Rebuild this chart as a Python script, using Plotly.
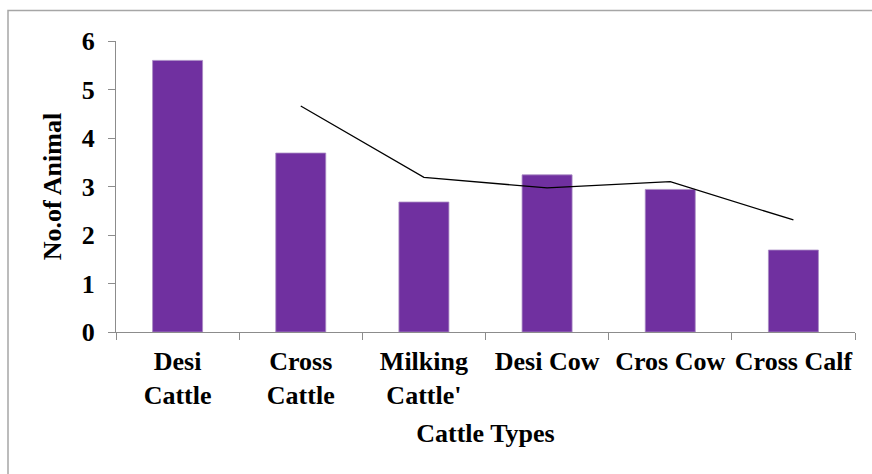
import plotly.graph_objects as go

categories = ["Desi<br>Cattle", "Cross<br>Cattle", "Milking<br>Cattle'", "Desi Cow", "Cros Cow", "Cross Calf"]
bar_values = [5.6, 3.69, 2.68, 3.24, 2.94, 1.69]
line_categories = ["Cross<br>Cattle", "Milking<br>Cattle'", "Desi Cow", "Cros Cow", "Cross Calf"]
line_values = [4.66, 3.19, 2.97, 3.10, 2.31]
y_ticks = [0, 1, 2, 3, 4, 5, 6]

W, H = 872, 474
L, R, T, B = 116, 17, 41, 142
pw, ph = W - L - R, H - T - B

font_family = "'Liberation Serif', 'Times New Roman', serif"
fs = 26

fig = go.Figure()
fig.add_trace(go.Bar(
    x=categories, y=bar_values,
    marker=dict(color="#7030A0", line=dict(color="#a98bc4", width=0.8)),
    showlegend=False,
))
fig.add_trace(go.Scatter(
    x=line_categories, y=line_values, mode="lines",
    line=dict(color="black", width=1.3),
    showlegend=False,
))

def px_x(p):
    return (p - L) / pw

def px_y(p):
    return (H - B - p) / ph

fig.add_shape(type="rect", xref="paper", yref="paper",
              x0=px_x(8), x1=px_x(880), y0=px_y(10.5), y1=px_y(480),
              line=dict(color="#a6a6a6", width=1.5), fillcolor="rgba(0,0,0,0)", layer="below")

fig.update_layout(
    width=W, height=H,
    margin=dict(l=L, r=R, t=T, b=B),
    paper_bgcolor="white", plot_bgcolor="white",
    bargap=0.594,
    font=dict(family=font_family, size=fs, color="black", weight="bold"),
    xaxis=dict(
        type="category",
        categoryorder="array", categoryarray=categories,
        showline=True, linecolor="#8c8c8c", linewidth=1.3,
        ticks="outside", tickson="boundaries", ticklen=7, tickcolor="#8c8c8c", tickwidth=1.3,
        tickfont=dict(family=font_family, size=fs, weight="bold", color="black"),
        tickangle=0,
        ticklabelstandoff=6,
        showgrid=False, zeroline=False,
        title=dict(text="Cattle Types", font=dict(family=font_family, size=fs, weight="bold"), standoff=14),
    ),
    yaxis=dict(
        range=[0, 6], tickvals=y_ticks,
        showline=True, linecolor="#8c8c8c", linewidth=1.3,
        ticks="outside", ticklen=7, tickcolor="#8c8c8c", tickwidth=1.3,
        tickfont=dict(family=font_family, size=fs, weight="bold", color="black"),
        ticklabelstandoff=8,
        showgrid=False, zeroline=False,
        title=dict(text="No.of Animal", font=dict(family=font_family, size=fs, weight="bold"), standoff=12),
    ),
)

fig.write_html("out.html")
